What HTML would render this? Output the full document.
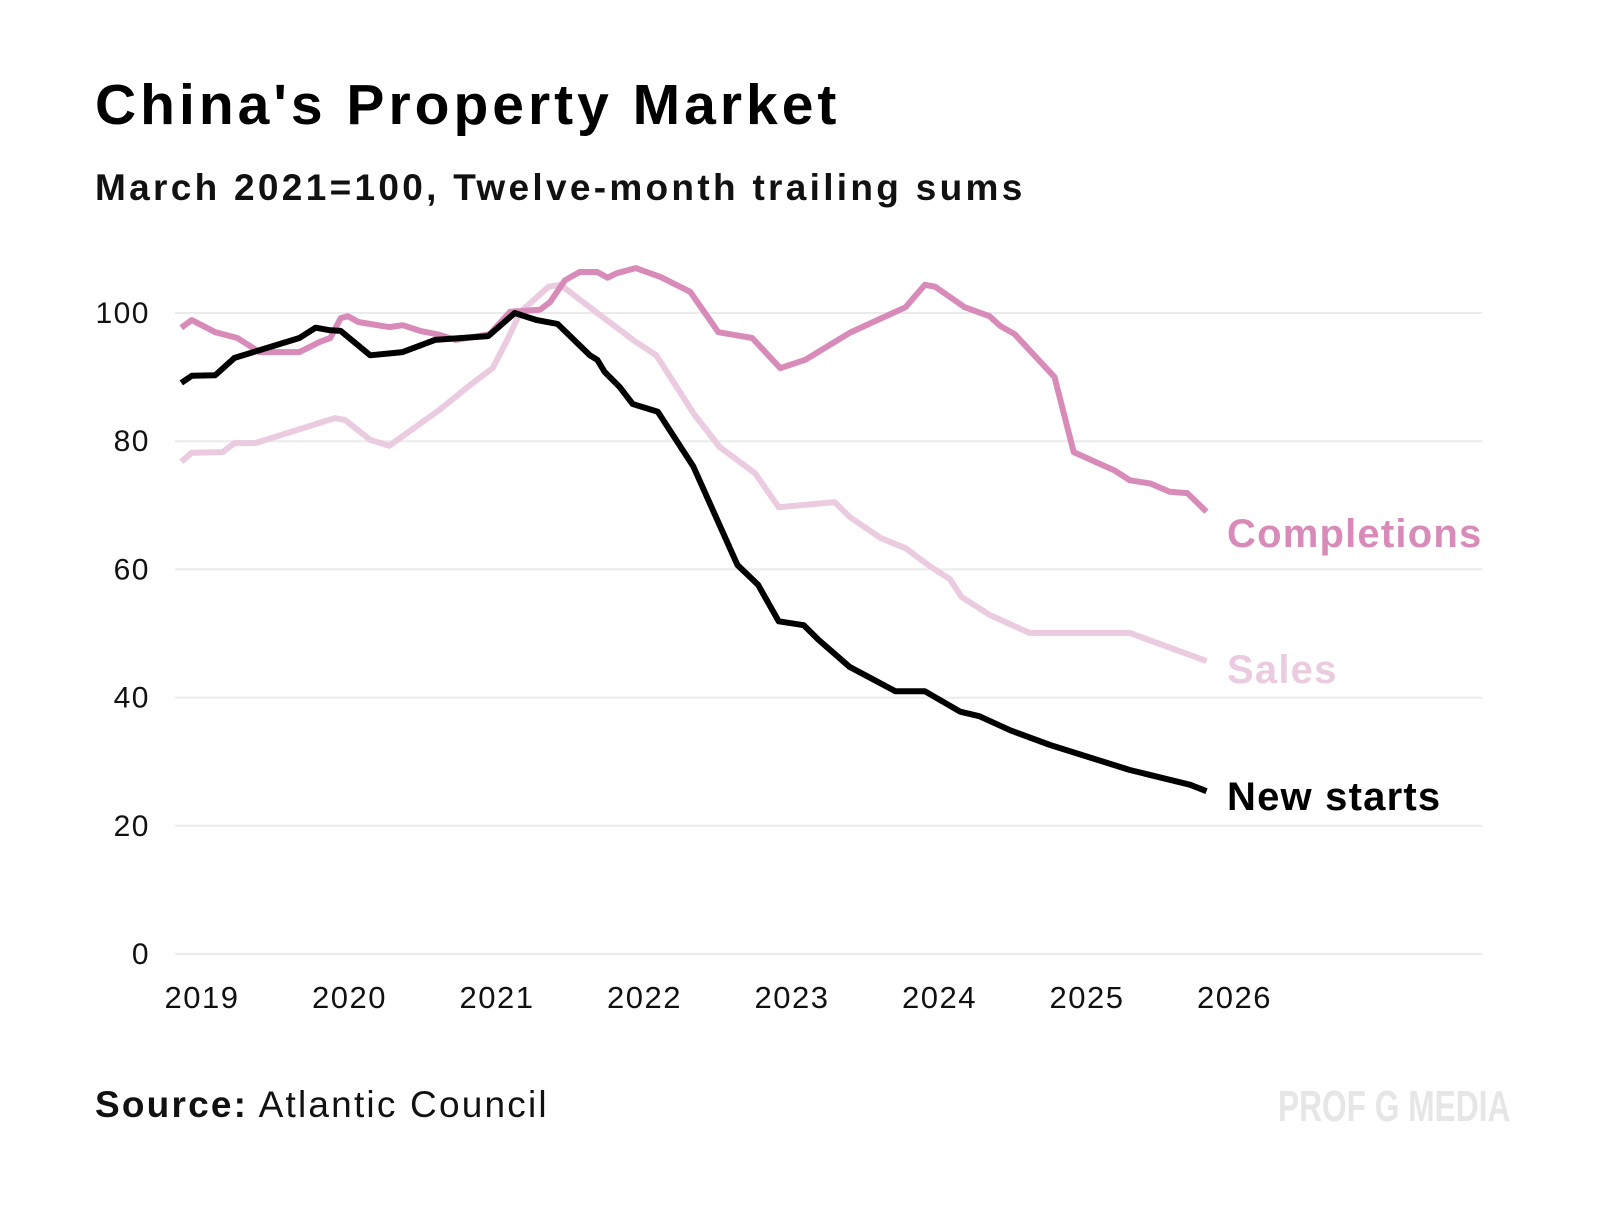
<!DOCTYPE html>
<html><head><meta charset="utf-8">
<style>
html,body{margin:0;padding:0;background:#fff;}
body{width:1600px;height:1231px;position:relative;overflow:hidden;font-family:"Liberation Sans",sans-serif;}
.t{position:absolute;white-space:nowrap;}
</style></head>
<body>
<div class="t" style="left:95px;top:72px;font-size:57px;font-weight:bold;color:#000;letter-spacing:4px;">China's Property Market</div>
<div class="t" style="left:95px;top:167px;font-size:37px;font-weight:bold;color:#111;letter-spacing:3.3px;">March 2021=100, Twelve-month trailing sums</div>
<svg id="chart" width="1600" height="1231" style="position:absolute;left:0;top:0;"></svg>
<div class="t" style="left:95px;top:1084px;font-size:37px;color:#111;letter-spacing:2.2px;"><b>Source:</b> Atlantic Council</div>
<div class="t" style="left:1278px;top:1082px;font-size:44px;font-weight:bold;color:#e6e6e6;transform:scaleX(0.72);transform-origin:left top;">PROF G MEDIA</div>
<script>
const yTicks=[0,20,40,60,80,100];
const xTicks=[2019,2020,2021,2022,2023,2024,2025,2026];
const startsYears=[2018.86,2018.93,2019.09,2019.22,2019.66,2019.77,2019.87,2019.94,2020.14,2020.36,2020.58,2020.94,2021.12,2021.27,2021.41,2021.63,2021.68,2021.73,2021.83,2021.92,2022.09,2022.33,2022.63,2022.77,2022.91,2023.08,2023.18,2023.39,2023.70,2023.90,2024.14,2024.27,2024.48,2024.75,2025.29,2025.70,2025.81];
const startsValues=[89.1,90.2,90.3,93,96.1,97.7,97.3,97.2,93.4,93.9,95.8,96.4,100,98.9,98.3,93.4,92.7,90.8,88.5,85.8,84.6,76.1,60.7,57.6,51.9,51.3,49,44.8,41,41,37.8,37.1,34.9,32.6,28.7,26.4,25.4];
const complYears=[2018.86,2018.93,2019.09,2019.24,2019.39,2019.66,2019.80,2019.87,2019.94,2019.99,2020.06,2020.27,2020.36,2020.48,2020.61,2020.72,2020.95,2021.09,2021.29,2021.36,2021.46,2021.56,2021.68,2021.75,2021.81,2021.94,2022.11,2022.31,2022.41,2022.50,2022.73,2022.92,2023.09,2023.39,2023.77,2023.90,2023.97,2024.17,2024.34,2024.41,2024.51,2024.78,2024.91,2025.19,2025.29,2025.43,2025.56,2025.68,2025.81];
const complValues=[97.7,98.9,97,96.1,93.9,93.9,95.5,96.1,99.2,99.5,98.6,97.8,98.1,97.2,96.6,95.8,96.7,100.2,100.5,101.7,105.1,106.4,106.4,105.5,106.2,107,105.6,103.3,100,97,96.1,91.4,92.7,96.9,100.9,104.4,104.1,100.9,99.5,98,96.7,90,78.3,75.4,73.9,73.4,72.1,71.9,69];
const salesYears=[2018.86,2018.93,2019.14,2019.22,2019.36,2019.90,2019.97,2020.14,2020.27,2020.61,2020.82,2020.97,2021.07,2021.16,2021.35,2021.43,2021.68,2021.94,2022.08,2022.34,2022.51,2022.75,2022.91,2023.29,2023.39,2023.60,2023.77,2023.94,2024.07,2024.15,2024.34,2024.61,2025.29,2025.81];
const salesValues=[76.8,78.2,78.3,79.7,79.7,83.6,83.3,80.2,79.3,84.9,88.8,91.4,95.8,100.2,104.1,104.4,100,95.5,93.4,84.1,79.1,75,69.7,70.5,68.2,64.9,63.3,60.4,58.5,55.7,52.9,50.1,50.1,45.7];

const NS="http://www.w3.org/2000/svg";
const svg=document.getElementById('chart');
const yScale=v=>954-v*6.41;
const xScale=yr=>202+(yr-2019)*147.5;
function mk(tag,attrs){const e=document.createElementNS(NS,tag);for(const k in attrs)e.setAttribute(k,attrs[k]);svg.appendChild(e);return e;}

yTicks.forEach(v=>{
  const g=mk('line',{x1:175,x2:1482,y1:yScale(v),y2:yScale(v),stroke:'#ebebeb','stroke-width':2});
  
  
  const t=mk('text',{x:150,y:yScale(v)+10,'text-anchor':'end','font-size':30,'letter-spacing':1.5,fill:'#111','font-family':'Liberation Sans, sans-serif'});
  t.textContent=v;
  
  
});
xTicks.forEach(yr=>{
  const t=mk('text',{x:xScale(yr),y:1008,'text-anchor':'middle','font-size':31,'letter-spacing':1.5,fill:'#111','font-family':'Liberation Sans, sans-serif'});
  t.textContent=yr;
  
  
});
function line(xs,vs,color,name){
  const d=xs.map((x,i)=>(i?'L':'M')+xScale(x).toFixed(1)+','+yScale(vs[i]).toFixed(1)).join(' ');
  const p=mk('path',{d:d,fill:'none',stroke:color,'stroke-width':6,'stroke-linejoin':'round','stroke-linecap':'butt'});
  
  
}
line(salesYears,salesValues,'#ebcbe0','sales-line');
line(complYears,complValues,'#d88bb9','completions-line');
line(startsYears,startsValues,'#000','new-starts-line');
function lab(txt,y,color,name){
  const t=mk('text',{x:1227,y:y,'font-size':40,'font-weight':'bold','letter-spacing':1.2,fill:color,'font-family':'Liberation Sans, sans-serif'});
  t.textContent=txt;
  
  
}
lab('Completions',547,'#d88bb9','completions-label');
lab('Sales',683,'#ebcbe0','sales-label');
lab('New starts',810,'#000','new-starts-label');
</script>
</body></html>
